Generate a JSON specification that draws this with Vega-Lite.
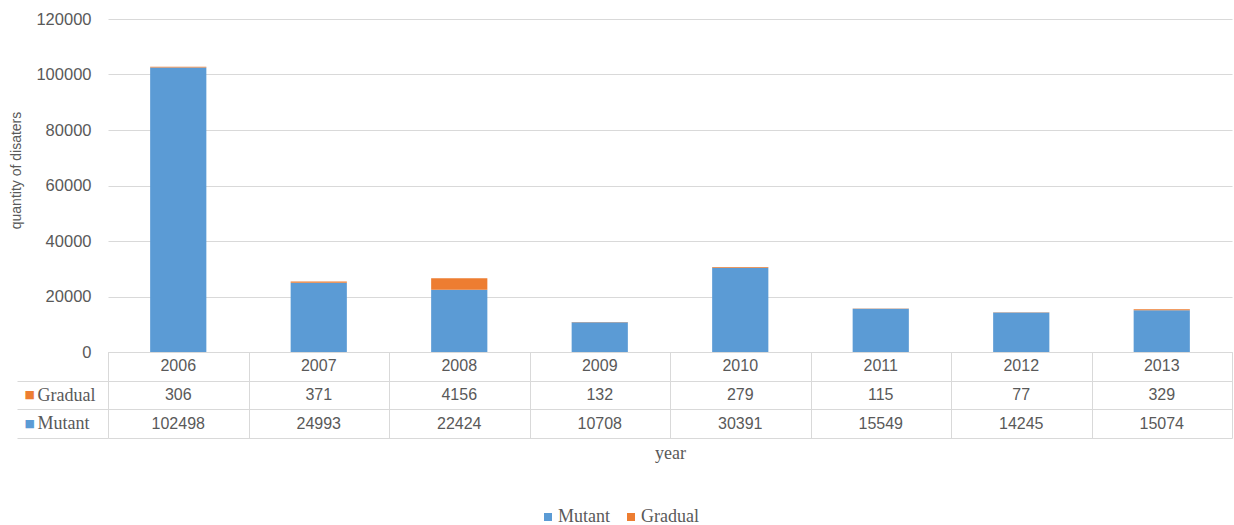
{
  "$schema": "https://vega.github.io/schema/vega-lite/v6.json",
  "background": "white",
  "padding": {"left": 9, "top": 11, "right": 2, "bottom": 2},
  "config": {
    "view": {"stroke": null},
    "font": "Liberation Serif",
    "axis": {
      "labelColor": "#595959",
      "titleColor": "#595959",
      "titleFontWeight": "normal"
    },
    "text": {"font": "Liberation Sans", "fontSize": 16, "color": "#595959"}
  },
  "data": {
    "values": [
      {"year": "2006", "Mutant": 102498, "Gradual": 306},
      {"year": "2007", "Mutant": 24993, "Gradual": 371},
      {"year": "2008", "Mutant": 22424, "Gradual": 4156},
      {"year": "2009", "Mutant": 10708, "Gradual": 132},
      {"year": "2010", "Mutant": 30391, "Gradual": 279},
      {"year": "2011", "Mutant": 15549, "Gradual": 115},
      {"year": "2012", "Mutant": 14245, "Gradual": 77},
      {"year": "2013", "Mutant": 15074, "Gradual": 329}
    ]
  },
  "bounds": "flush",
  "spacing": 0,
  "vconcat": [
    {
      "width": 1124,
      "height": 333,
      "transform": [{"fold": ["Mutant", "Gradual"], "as": ["series", "count"]}],
      "mark": {"type": "bar"},
      "encoding": {
        "x": {
          "field": "year",
          "type": "ordinal",
          "scale": {"paddingInner": 0.6, "paddingOuter": 0.3},
          "axis": {"labels": false, "ticks": false, "title": null, "domain": true, "domainColor": "#D9D9D9"}
        },
        "y": {
          "field": "count",
          "type": "quantitative",
          "stack": "zero",
          "scale": {"domain": [0, 120000]},
          "axis": {
            "values": [0, 20000, 40000, 60000, 80000, 100000, 120000],
            "format": "d",
            "title": "quantity of disaters",
            "titleFont": "Liberation Sans",
            "titleFontSize": 14,
            "titlePadding": 12,
            "titleY": 151,
            "labelFont": "Liberation Sans",
            "labelFontSize": 16.5,
            "labelPadding": 17,
            "grid": true,
            "gridColor": "#D9D9D9",
            "domain": false,
            "ticks": false
          }
        },
        "color": {
          "field": "series",
          "type": "nominal",
          "scale": {"domain": ["Mutant", "Gradual"], "range": ["#5B9BD5", "#ED7D31"]},
          "legend": {
            "orient": "none",
            "legendX": 431,
            "legendY": 489,
            "direction": "horizontal",
            "title": null,
            "symbolType": "square",
            "symbolSize": 64,
            "symbolStrokeWidth": 0,
            "labelFont": "Liberation Serif",
            "labelFontSize": 18,
            "labelColor": "#595959",
            "labelOffset": 1,
            "columnPadding": 12
          }
        },
        "order": {"field": "series", "sort": "descending"}
      }
    },
    {
      "width": 1124,
      "height": 86,
      "layer": [
        {
          "mark": {"type": "text"},
          "encoding": {
            "x": {
              "field": "year",
              "type": "ordinal",
              "scale": {"paddingInner": 0, "paddingOuter": 0},
              "axis": {
                "orient": "bottom",
                "tickBand": "extent",
                "grid": true,
                "gridColor": "#D9D9D9",
                "ticks": false,
                "labels": false,
                "domain": false,
                "title": "year",
                "titleFont": "Liberation Serif",
                "titleFontSize": 18,
                "titlePadding": 6
              }
            },
            "y": {"datum": "year", "type": "ordinal", "axis": null},
            "text": {"field": "year", "type": "nominal"}
          }
        },
        {
          "transform": [{"fold": ["Gradual", "Mutant"], "as": ["series", "count"]}],
          "mark": {"type": "text"},
          "encoding": {
            "x": {"field": "year", "type": "ordinal"},
            "y": {
              "field": "series",
              "type": "ordinal",
              "scale": {"domain": ["year", "Gradual", "Mutant"], "paddingInner": 0, "paddingOuter": 0},
              "axis": {
                "orient": "left",
                "title": null,
                "grid": true,
                "gridColor": "#D9D9D9",
                "tickBand": "extent",
                "ticks": true,
                "tickSize": 91,
                "tickColor": {"condition": {"test": "datum.extra", "value": "transparent"}, "value": "#D9D9D9"},
                "domain": false,
                "labelExpr": "datum.value == 'year' ? '' : datum.value",
                "labelFont": "Liberation Serif",
                "labelFontSize": 18,
                "labelAlign": "left",
                "labelPadding": -20,
                "labelOverlap": false
              }
            },
            "text": {"field": "count", "type": "nominal"}
          }
        },
        {
          "transform": [{"fold": ["Gradual", "Mutant"], "as": ["series", "count"]}],
          "mark": {"type": "text", "opacity": 0},
          "encoding": {
            "y": {
              "field": "series",
              "type": "ordinal",
              "axis": {
                "orient": "left",
                "title": null,
                "grid": false,
                "ticks": false,
                "domain": false,
                "labelExpr": "datum.value == 'year' ? '' : '■'",
                "labelFont": "DejaVu Sans",
                "labelFontSize": 11,
                "labelColor": {"condition": {"test": "datum.value == 'Gradual'", "value": "#ED7D31"}, "value": "#5B9BD5"},
                "labelAlign": "left",
                "labelPadding": 84,
                "labelOverlap": false
              }
            },
            "text": {"value": ""}
          }
        }
      ],
      "resolve": {"axis": {"y": "independent"}}
    }
  ]
}
